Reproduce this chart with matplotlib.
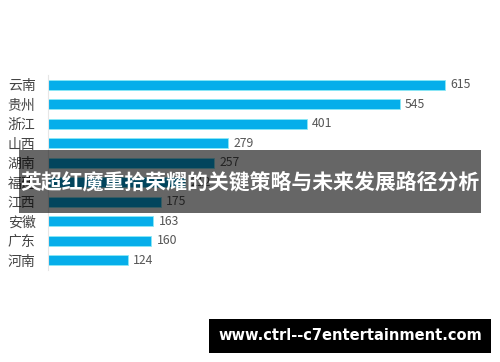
import matplotlib.pyplot as plt
from matplotlib.patches import Rectangle

plt.rcParams['font.family'] = ['Noto Sans CJK SC', 'DejaVu Sans']

provinces = ['云南', '贵州', '浙江', '山西', '湖南', '福建', '江西', '安徽', '广东', '河南']
values = [615, 545, 401, 279, 257, 212, 175, 163, 160, 124]
title = '英超红魔重拾荣耀的关键策略与未来发展路径分析'
site = 'www.ctrl--c7entertainment.com'

fig = plt.figure(figsize=(5, 3.62), dpi=100)
ax = fig.add_axes([0.096, 0.254, 0.904, 0.539])

y = list(range(len(provinces)))
ax.barh(y, values, height=0.52, color='#06aeea', edgecolor='#8ae8f6', linewidth=0.6)
for yi, v in zip(y, values):
    ax.text(v + 8, yi, str(v), va='center', ha='left', fontsize=8.8, color='#555555')

ax.set_xlim(0, 700)
ax.set_ylim(len(provinces) - 0.5, -0.5)
ax.set_yticks(y)
ax.set_yticklabels(provinces, fontsize=10, color='#444444')
ax.tick_params(axis='y', length=0, pad=9)
ax.set_xticks([])
for side in ['top', 'right', 'bottom']:
    ax.spines[side].set_visible(False)
ax.spines['left'].set_color('#e6e6e6')
ax.spines['left'].set_linewidth(0.8)

# dark banner over the middle of the chart
fig.patches.append(Rectangle((0.038, 1 - 213 / 362), 0.924, 63 / 362, transform=fig.transFigure,
                             facecolor='black', edgecolor='none', alpha=0.6, zorder=10))
fig.text(0.5, 1 - 182 / 362, title, ha='center', va='center', fontsize=15,
         fontweight='bold', color='white', zorder=11)

# site label box
fig.patches.append(Rectangle((209 / 500, 1 - 353 / 362), 282 / 500, 34 / 362, transform=fig.transFigure,
                             facecolor='black', edgecolor='none', zorder=10))
fig.text(350 / 500, 1 - 336 / 362, site, ha='center', va='center', fontsize=10.5,
         fontweight='bold', color='white', family='DejaVu Sans', zorder=11)

fig.savefig('out.png', dpi=100)
